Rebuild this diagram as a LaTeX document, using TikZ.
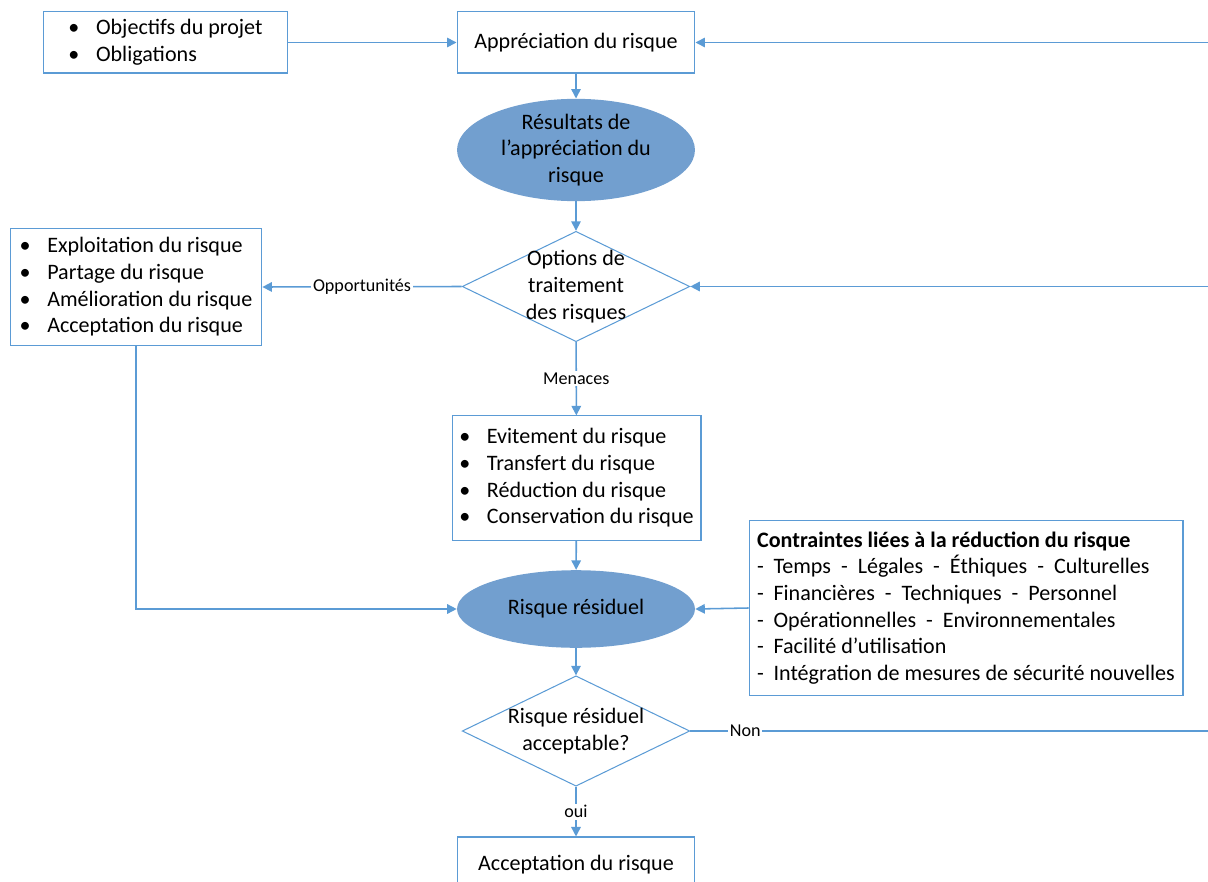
\documentclass[tikz,border=0pt]{standalone}
\usepackage{fontspec}
\setmainfont{Carlito}
\usepackage{tikz}
\usepackage{xcolor}
\usetikzlibrary{arrows.meta, positioning, shapes.geometric}

\definecolor{trait}{HTML}{5B9BD5}
\definecolor{bulle}{HTML}{729FCF}
\newcommand{\puce}{\makebox[16pt][l]{\textbullet}}
\newcommand{\tiret}{\makebox[9.5pt][l]{-}}

\begin{document}
\begin{tikzpicture}[
    x=0.58pt, y=-0.58pt,
    font=\fontsize{12.8}{15.5}\selectfont,
    box/.style={rectangle, draw=trait, line width=0.6pt, fill=white, align=left, inner sep=0pt},
    bulle/.style={ellipse, fill=bulle, minimum width=138pt, inner sep=0pt, align=center},
    choix/.style={diamond, draw=trait, line width=0.6pt, minimum width=132pt, minimum height=64pt, inner sep=0pt},
    arrow/.style={draw=trait, line width=0.9pt, -{Triangle[length=5.5pt, width=5.5pt]}},
    lien/.style={draw=trait, line width=0.9pt},
    etiq/.style={fill=white, font=\fontsize{10.5}{12}\selectfont, inner sep=1pt}
]
    \useasboundingbox (0,0) rectangle (1208,881);

    % Etapes
    \node[box, minimum width=142pt, minimum height=35.4pt] (objectifs) at (165.5,42.5)
        {\puce Objectifs du projet\\\puce Obligations};
    \node[box, minimum width=138pt, minimum height=35.4pt, align=center] (appreciation) at (576,42.5)
        {Appréciation du risque};
    \node[bulle, minimum height=52pt] (resultats) at (576,150)
        {Résultats de\\l’appréciation du\\risque};
    \node[choix, label={[align=center]center:{Options de\\traitement\\des risques}}] (options) at (576,286.5) {};
    \node[box, minimum width=146pt, minimum height=68.4pt] (exploitation) at (136,287)
        {\puce Exploitation du risque\\\puce Partage du risque\\\puce Amélioration du risque\\\puce Acceptation du risque};
    \node[box, minimum width=144.4pt, minimum height=72pt] (menaces) at (576.5,478)
        {\puce Evitement du risque\\\puce Transfert du risque\\\puce Réduction du risque\\\puce Conservation du risque};
    \node[bulle, minimum height=45pt] (residuel) at (576,609) {Risque résiduel};
    \node[box, minimum width=251.7pt, minimum height=102pt] (contraintes) at (966,608)
        {\textbf{Contraintes liées à la réduction du risque}\\
         \tiret Temps~~-~~Légales~~-~~Éthiques~~-~~Culturelles\\
         \tiret Financières~~-~~Techniques~~-~~Personnel\\
         \tiret Opérationnelles~~-~~Environnementales\\
         \tiret Facilité d’utilisation\\
         \tiret Intégration de mesures de sécurité nouvelles};
    \node[choix, label={[align=center]center:{Risque résiduel\\acceptable?}}] (acceptable) at (576,731) {};
    \node[box, minimum width=138pt, minimum height=32.5pt, align=center] (acceptation) at (576,865)
        {Acceptation du risque};

    % Bord droit
    \coordinate (bordHaut) at (1208,42.5);
    \coordinate (bordMilieu) at (1208,286.5);
    \coordinate (bordBas) at (1208,731);

    % Liens
    \draw[arrow] (objectifs.east) -- (appreciation.west);
    \draw[arrow] (bordHaut) -- (appreciation.east);
    \draw[arrow] (appreciation) -- (resultats);
    \draw[arrow] (resultats) -- (options);
    \draw[arrow] (options.west) -- (exploitation.east) node[midway, etiq] {Opportunités};
    \draw[arrow] (bordMilieu) -- (options.east);
    \draw[arrow] (options) -- (menaces) node[midway, etiq] {Menaces};
    \draw[arrow] (menaces) -- (residuel);
    \draw[arrow] (exploitation.south) |- (residuel.west);
    \draw[arrow] (contraintes.west) -- (residuel.east);
    \draw[arrow] (residuel) -- (acceptable);
    \draw[lien] (acceptable.east) -- (bordBas) node[pos=0.106, etiq] {Non};
    \draw[arrow] (acceptable) -- (acceptation) node[midway, etiq] {oui};
\end{tikzpicture}
\end{document}
